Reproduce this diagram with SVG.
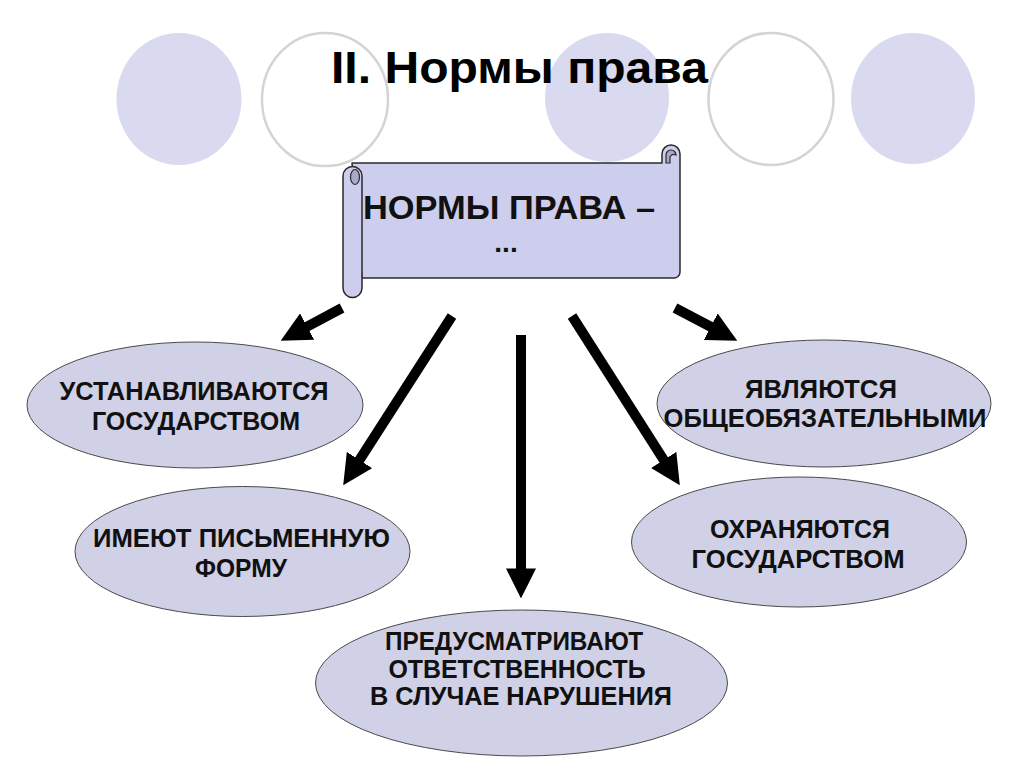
<svg xmlns="http://www.w3.org/2000/svg" width="1024" height="767" viewBox="0 0 1024 767">
<style>
.dot{fill:#d9d9f0;stroke:none}
.ring{fill:none;stroke:#d4d4d4;stroke-width:2.5}
.oval{fill:#d0d0e7;stroke:#4a4a4a;stroke-width:1}
.scroll{fill:#cdcdee;stroke:#2a2a2a;stroke-width:1.5;stroke-linejoin:round}
.curl{fill:#a9a9c6;stroke:#2a2a2a;stroke-width:1.2}
.t{font-family:"Liberation Sans",Arial,sans-serif;font-weight:bold;font-size:25px;fill:#111;text-anchor:middle}
.h{font-family:"Liberation Sans",Arial,sans-serif;font-weight:bold;font-size:45px;fill:#000}
.s{font-family:"Liberation Sans",Arial,sans-serif;font-weight:bold;font-size:34px;fill:#111;text-anchor:middle}
.arr{stroke:#000;stroke-width:10;fill:none}
</style>
<defs>
<marker id="head" markerUnits="userSpaceOnUse" markerWidth="30" markerHeight="30" viewBox="0 0 28 28" refX="8" refY="14" orient="auto">
<path d="M0,0 L28,14 L0,28 Z" fill="#000"/>
</marker>
</defs>
<rect width="1024" height="767" fill="#fff"/>
<g id="decor">
<ellipse class="dot" cx="179" cy="99" rx="62.5" ry="66"/>
<ellipse class="ring" cx="325" cy="99.5" rx="63" ry="66.5"/>
<ellipse class="dot" cx="607" cy="97.5" rx="62" ry="64.5"/>
<ellipse class="ring" cx="771" cy="99" rx="62.5" ry="66"/>
<ellipse class="dot" cx="913" cy="98.5" rx="62" ry="65.5"/>
</g>
<g id="title">
<text class="h" x="331" y="83" textLength="377" lengthAdjust="spacingAndGlyphs">II. Нормы права</text>
</g>
<g id="scroll">
<path class="scroll" d="M352,163 H662 V154 A9,9 0 0 1 680,154 V272 A6,6 0 0 1 674,278 H362 Z"/>
<path class="curl" d="M666,163 V155 A5,5 0 0 1 676,155 Q672,153 670,157 V163 Z"/>
<path class="scroll" d="M343,176 A9.5,9.5 0 0 1 362,176 V288 A9.5,9.5 0 0 1 343,288 Z"/>
<ellipse class="curl" cx="355" cy="177" rx="4.5" ry="7.5"/>
<text class="s" x="509" y="219" textLength="292" lengthAdjust="spacingAndGlyphs">НОРМЫ ПРАВА –</text>
<text class="s" x="506" y="252" style="font-size:28px">...</text>
</g>
<g id="connectors">
<line class="arr" x1="342" y1="308" x2="299.6" y2="330.6" marker-end="url(#head)"/>
<line class="arr" x1="452" y1="316" x2="354.8" y2="467.2" marker-end="url(#head)"/>
<line class="arr" x1="521" y1="335" x2="521" y2="577" marker-end="url(#head)"/>
<line class="arr" x1="572" y1="316" x2="668.3" y2="467.1" marker-end="url(#head)"/>
<line class="arr" x1="675" y1="308" x2="718.3" y2="330.7" marker-end="url(#head)"/>
</g>
<g id="node-ustanavl">
<ellipse class="oval" cx="195" cy="405" rx="168" ry="63"/>
<text class="t" x="194" y="400" textLength="269" lengthAdjust="spacingAndGlyphs">УСТАНАВЛИВАЮТСЯ</text>
<text class="t" x="196" y="430" textLength="208" lengthAdjust="spacingAndGlyphs">ГОСУДАРСТВОМ</text>
</g>
<g id="node-pismennuyu">
<ellipse class="oval" cx="242.5" cy="551.5" rx="167.5" ry="65"/>
<text class="t" x="241.5" y="547" textLength="297" lengthAdjust="spacingAndGlyphs">ИМЕЮТ ПИСЬМЕННУЮ</text>
<text class="t" x="241" y="577" textLength="92" lengthAdjust="spacingAndGlyphs">ФОРМУ</text>
</g>
<g id="node-otvetstvennost">
<ellipse class="oval" cx="521.5" cy="683" rx="206" ry="73"/>
<text class="t" x="514" y="650" textLength="258" lengthAdjust="spacingAndGlyphs">ПРЕДУСМАТРИВАЮТ</text>
<text class="t" x="517" y="678" textLength="257" lengthAdjust="spacingAndGlyphs">ОТВЕТСТВЕННОСТЬ</text>
<text class="t" x="521" y="705" textLength="302" lengthAdjust="spacingAndGlyphs">В СЛУЧАЕ НАРУШЕНИЯ</text>
</g>
<g id="node-obshcheobyaz">
<ellipse class="oval" cx="824" cy="403.5" rx="167" ry="63.5"/>
<text class="t" x="821" y="398" textLength="152" lengthAdjust="spacingAndGlyphs">ЯВЛЯЮТСЯ</text>
<text class="t" x="825" y="427" textLength="323" lengthAdjust="spacingAndGlyphs">ОБЩЕОБЯЗАТЕЛЬНЫМИ</text>
</g>
<g id="node-okhranyayutsya">
<ellipse class="oval" cx="799" cy="542" rx="167.5" ry="65"/>
<text class="t" x="800" y="538" textLength="180" lengthAdjust="spacingAndGlyphs">ОХРАНЯЮТСЯ</text>
<text class="t" x="798" y="568" textLength="213" lengthAdjust="spacingAndGlyphs">ГОСУДАРСТВОМ</text>
</g>
</svg>
